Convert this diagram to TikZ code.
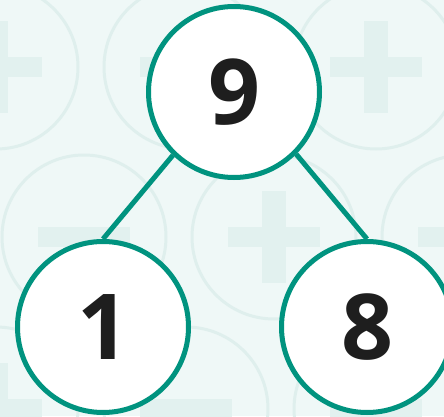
\documentclass[tikz,border=0pt]{standalone}
\usepackage{fontspec}
\usepackage{tikz}
\usepackage{xcolor}
\usetikzlibrary{positioning}
\newfontfamily\bondfont{Open Sans}
\definecolor{Bond_Teal}{HTML}{00937F}
\definecolor{Bond_Ink}{HTML}{1E1E1E}
\definecolor{Bond_Mint}{HTML}{EFF8F7}
\definecolor{Bond_Ring}{HTML}{DFEFED}
\definecolor{Bond_Sign}{HTML}{E2F1EF}

\begin{document}
\begin{tikzpicture}[x=1pt, y=1pt,
    bond/.style={circle, draw=Bond_Teal, line width=5pt, fill=white, minimum size=171pt, inner sep=0pt,
        text=Bond_Ink, font=\bondfont\bfseries\fontsize{91}{91}\selectfont},
    link/.style={draw=Bond_Teal, line width=5pt}]
    \useasboundingbox (0,0) rectangle (444,416);
    \clip (0,0) rectangle (444,416);
    \fill[Bond_Mint] (0,0) rectangle (444,416);
    % faint plus / minus pattern behind
    \foreach \x/\y/\s in {-4/349/1, 186/349/0, 376/349/1, 84/179/0, 274/179/1, 464/179/0, -4/7/1, 186/7/0, 376/7/1} {
        \draw[Bond_Ring, line width=3pt] (\x,\y) circle (82);
        \fill[Bond_Sign] (\x-46,\y-10) rectangle (\x+46,\y+10);
        \ifnum\s=1 \fill[Bond_Sign] (\x-12,\y-46) rectangle (\x+12,\y+46); \fi
    }
    \node[bond] (nine) at (234,324) {9};
    \node[bond] (one) at (103,89) {1};
    \node[bond] (eight) at (367,89) {8};
    \draw[link] (nine.-134) -- (one.north);
    \draw[link] (nine.-45) -- (eight.north);
\end{tikzpicture}
\end{document}
